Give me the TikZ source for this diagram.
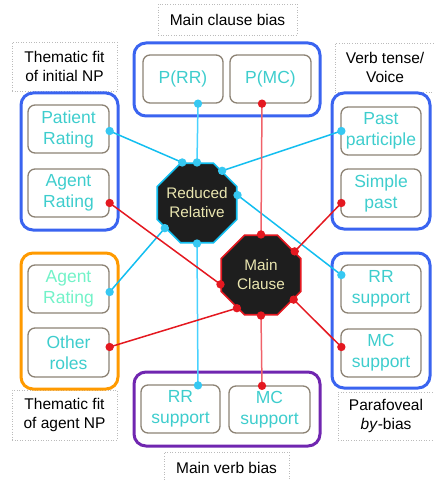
\documentclass[tikz,border=0pt]{standalone}
\usepackage{fontspec}
\setmainfont{Liberation Sans}
\usetikzlibrary{shapes.geometric,calc}
\definecolor{grpblue}{HTML}{3A64F0}
\definecolor{grporange}{HTML}{FF9A00}
\definecolor{grppurple}{HTML}{7026B0}
\definecolor{boxedge}{HTML}{8C8274}
\definecolor{turq}{HTML}{3ECDCD}
\definecolor{aqua}{HTML}{72F2C8}
\definecolor{octfill}{HTML}{1E1E1E}
\definecolor{octtext}{HTML}{EAE6B0}
\definecolor{rrline}{HTML}{12BEF0}
\definecolor{rrlight}{HTML}{48D2FF}
\definecolor{mcline}{HTML}{E41820}
\definecolor{mclight}{HTML}{F0626A}
\definecolor{lblgray}{HTML}{BBBBBB}
\tikzset{
  grp/.style={line width=3pt, rounded corners=12pt},
  ibox/.style={draw=boxedge, line width=1.3pt, rounded corners=7pt, minimum width=81pt, minimum height=48pt, inner sep=0pt, align=center, text=turq, font=\fontsize{17.5}{21}\selectfont},
  lbl/.style={draw=lblgray, dotted, line width=0.6pt, inner sep=0pt, align=center, text=black, font=\fontsize{15.5}{19}\selectfont},
  oct/.style={shape=regular polygon, regular polygon sides=8, minimum size=86pt, inner sep=-10pt, fill=octfill, line width=1.6pt, align=center, text=octtext, font=\fontsize{15.3}{19}\selectfont},
  rrc/.style={draw=rrline, line width=1.5pt},
  rrcl/.style={draw=rrlight, line width=1.5pt},
  mcc/.style={draw=mcline, line width=1.5pt},
  mccl/.style={draw=mclight, line width=1.5pt},
}
\begin{document}
\begin{tikzpicture}[x=1pt,y=-1pt]
\useasboundingbox (0,0) rectangle (433,481);
% labels
\node[lbl, minimum width=139pt, minimum height=31pt] (l1) at (227.5,19.5) {Main clause bias};
\node[lbl, minimum width=105pt, minimum height=49pt] (l2) at (64.5,66.5) {Thematic fit\\of initial NP};
\node[lbl, minimum width=100pt, minimum height=49pt] (l3) at (385,67.5) {Verb tense/\\Voice};
\node[lbl, minimum width=105pt, minimum height=50pt] (l4) at (64.5,415) {Thematic fit\\of agent NP};
\node[lbl, minimum width=125pt, minimum height=32pt] (l5) at (226.5,468) {Main verb bias};
\node[lbl, minimum width=96pt, minimum height=48pt] (l6) at (386,416) {Parafoveal\\\textit{by}-bias};
% groups
\draw[grp, draw=grpblue] (134,43) rectangle (320,116);
\draw[grp, draw=grpblue] (21,93) rectangle (118,230);
\draw[grp, draw=grpblue] (332,93) rectangle (430,229);
\draw[grp, draw=grporange] (21,253) rectangle (118,389);
\draw[grp, draw=grpblue] (332,253) rectangle (430,388);
\draw[grp, draw=grppurple] (134,372) rectangle (320,446);
% boxes
\node[ibox] (pr) at (68.5,129) {Patient\\Rating};
\node[ibox] (ar1) at (68.5,193) {Agent\\Rating};
\node[ibox, minimum width=80pt] (prr) at (183,79) {P(RR)};
\node[ibox] (pmc) at (270.5,79) {P(MC)};
\node[ibox, minimum width=80pt] (pp) at (381,131) {Past\\participle};
\node[ibox, minimum width=80pt] (sp) at (381,193) {Simple\\past};
\node[ibox, text=aqua] (ar2) at (68.5,289) {Agent\\Rating};
\node[ibox, minimum height=49pt] (or) at (68.5,352.5) {Other\\roles};
\node[ibox, minimum width=80pt] (rrs) at (381,289) {RR\\support};
\node[ibox, minimum width=80pt] (mcs) at (381,353) {MC\\support};
\node[ibox, minimum width=79pt] (rrb) at (180.5,409) {RR\\support};
\node[ibox, minimum height=47pt] (mcb) at (269.5,409.5) {MC\\support};
% octagons
\node[oct, draw=rrline] (rr) at (197,203) {Reduced\\Relative};
\node[oct, draw=mcline] (mc) at (261,275) {Main\\Clause};
% dot coordinates on boxes
\coordinate (pr-d) at ($(pr.east)+(0,2)$);
\coordinate (ar1-d) at ($(ar1.east)+(0,10)$);
\coordinate (prr-d) at ($(prr.south)+(15,0)$);
\coordinate (pmc-d) at ($(pmc.south)+(-8.5,0)$);
\coordinate (pp-d) at ($(pp.west)+(1,0)$);
\coordinate (sp-d) at ($(sp.west)+(1,10)$);
\coordinate (ar2-d) at ($(ar2.east)+(0,3)$);
\coordinate (or-d) at ($(or.east)+(0,-5.5)$);
\coordinate (rrs-d) at ($(rrs.west)+(1,-14)$);
\coordinate (mcs-d) at ($(mcs.west)+(1,-6)$);
\coordinate (rrb-d) at ($(rrb.north)+(17.5,1)$);
\coordinate (mcb-d) at ($(mcb.north)+(-7.5,0.5)$);
% connectors (Reduced Relative)
\draw[rrc] (pr-d) -- (rr.110);
\draw[rrcl] (prr-d) -- (rr.90);
\draw[rrc] (pp-d) -- (rr.52);
\draw[rrc] (rr.11) -- (rrs-d);
\draw[rrc] (rr.218) -- (ar2-d);
\draw[rrcl] (rr.270) -- (rrb-d);
% connectors (Main Clause)
\draw[mcc] (ar1-d) -- (mc.193);
\draw[mccl] (pmc-d) -- (mc.90);
\draw[mcc] (sp-d) -- (mc.35);
\draw[mcc] (mc.323) -- (mcs-d);
\draw[mcc] (mc.234) -- (or-d);
\draw[mccl] (mc.270) -- (mcb-d);
% dots
\foreach \p in {pr-d, prr-d, pp-d, ar2-d, rrs-d, rrb-d, rr.110, rr.90, rr.52, rr.11, rr.218, rr.270}
  \fill[rrline!85!white] (\p) circle (4.2pt);
\foreach \p in {ar1-d, pmc-d, sp-d, or-d, mcs-d, mcb-d, mc.193, mc.90, mc.35, mc.323, mc.234, mc.270}
  \fill[mcline] (\p) circle (4.2pt);
\end{tikzpicture}
\end{document}
